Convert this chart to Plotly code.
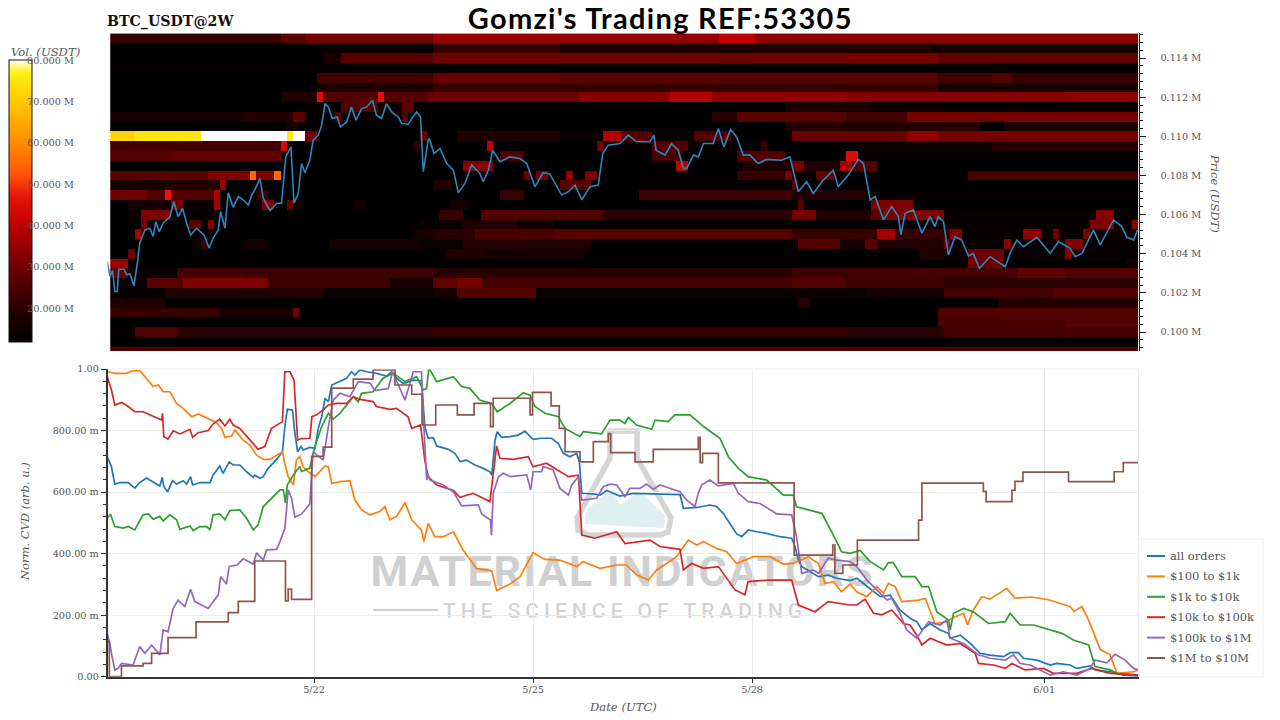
import numpy as np
import pandas as pd
import plotly.graph_objects as go

# 시간 단위: 5/19 00:00 (UTC) 부터의 hour
series_names = ['all orders', '$100 to $1k', '$1k to $10k', '$10k to $100k', '$100k to $1M', '$1M to $10M']
series_colors = ['#1f77b4', '#ff7f0e', '#2ca02c', '#d62728', '#9467bd', '#8c564b']

all_h = [4, 5.4, 6.5, 8.2, 10.9, 13.1, 14.7, 16.9, 19.1, 21.3, 22.1, 22.6, 23.8, 25.5, 26.8, 29, 30.1, 31.4, 32.1, 34.5, 37.8, 38.8, 41, 42.1, 44.1, 45.4, 47.6, 49.8, 52, 52.5, 54.2, 55.3, 56.9, 59.7, 61.6, 62.4, 63.2, 64.9, 65.7, 66.6, 67.7, 68.4, 70.6, 72.3, 73.4, 74.5, 75.6, 76.7, 77.8, 80.5, 82.7, 84.3, 85.4, 87.1, 89.3, 92.5, 95.8, 97.5, 99.1, 101.3, 104.6, 107.3, 108.4, 109.5, 111.2, 112.3, 116.1, 118.3, 120, 122.1, 124.9, 127.6, 129.8, 130.4, 131.5, 132.2, 133.6, 136.4, 139.1, 141.3, 144, 146.8, 150.1, 152.3, 153.9, 156.1, 158.3, 159.2, 160, 163.8, 166, 168.2, 172.5, 176.9, 183.5, 187.9, 192.3, 193.4, 197.8, 202.1, 204.3, 206.5, 208.7, 210.9, 212.6, 214.7, 217.5, 220.8, 225.2, 229, 230.1, 231.2, 232.3, 236.1, 237.8, 241, 243.8, 248.2, 250.4, 252.6, 255.9, 258.1, 261.4, 264.6, 267.9, 270.1, 271.8, 274.5, 277.8, 280.5, 281.1, 284.4, 287.7, 290.9, 294.2, 298.6, 300.8, 303.5, 305.2, 309.6, 314, 316.1, 320.5, 322.7, 327.1, 328.7, 333.7, 338, 343]
all_v = [.715, .683, .626, .631, .631, .613, .631, .646, .633, .620, .648, .618, .601, .637, .626, .637, .626, .650, .623, .631, .631, .655, .685, .661, .698, .688, .688, .666, .648, .655, .645, .650, .677, .706, .731, .813, .869, .867, .791, .731, .748, .737, .745, .742, .807, .845, .905, .894, .948, .959, .970, .991, .980, .997, .991, .986, .977, .991, .970, .953, .964, .962, .813, .775, .777, .750, .739, .726, .699, .704, .688, .677, .666, .655, .769, .796, .778, .780, .785, .798, .771, .775, .775, .758, .726, .715, .726, .699, .596, .594, .590, .605, .587, .596, .594, .592, .592, .547, .550, .558, .553, .531, .498, .464, .455, .477, .471, .466, .455, .450, .423, .379, .358, .336, .325, .330, .320, .312, .320, .303, .276, .260, .265, .217, .190, .179, .152, .173, .152, .141, .125, .135, .108, .076, .070, .065, .078, .078, .060, .054, .038, .043, .038, .027, .035, .022, .016, .005, .002]

o100_h = [4, 6.5, 10.4, 12.5, 14.7, 16.9, 19.1, 20.8, 22.4, 24.6, 26.8, 29, 31.7, 33.9, 36.7, 39.9, 41.6, 42.7, 44.9, 46, 48.7, 50.9, 53.1, 55.3, 57.5, 59.7, 61.6, 62.4, 63.5, 65.2, 66.2, 67.3, 68.4, 70.1, 72.3, 75.6, 76.7, 77.8, 80.5, 83.8, 85.4, 87.6, 90.4, 93.6, 95.3, 96.9, 99.1, 101.9, 104.1, 107.3, 108.1, 109.5, 111.7, 114.5, 117.8, 121, 125.4, 130.4, 132, 136.4, 139.7, 144, 147.9, 152.8, 158.3, 160.5, 166, 171.5, 174.7, 178, 181.9, 184.6, 191.2, 195, 197.8, 200, 204.3, 207.6, 210.9, 216.4, 221.9, 226.3, 229.5, 234.5, 237.8, 240, 242.7, 245.4, 248.2, 250.4, 253.7, 257, 259.2, 260.8, 263, 265.2, 270.7, 272.9, 276.1, 280, 281.6, 285.5, 286.8, 288.7, 291.5, 294.2, 299.7, 302.4, 307.9, 313.4, 316.1, 320.5, 321.8, 324.4, 326.6, 330.4, 333.7, 335.9, 341.4, 343]
o100_v = [.991, .986, .986, .995, .995, .967, .943, .948, .926, .926, .888, .872, .845, .854, .840, .826, .807, .778, .782, .802, .769, .753, .720, .706, .706, .720, .731, .693, .650, .623, .704, .715, .682, .666, .650, .685, .682, .628, .634, .637, .574, .542, .526, .537, .553, .510, .521, .566, .510, .477, .439, .498, .455, .455, .471, .412, .352, .344, .280, .301, .325, .403, .381, .379, .358, .374, .352, .363, .363, .331, .314, .347, .390, .444, .428, .439, .417, .406, .368, .390, .390, .366, .368, .390, .368, .303, .309, .276, .301, .276, .260, .293, .271, .303, .293, .244, .249, .254, .173, .179, .190, .206, .168, .217, .260, .252, .287, .255, .259, .250, .241, .228, .212, .228, .184, .089, .071, .011, .016, .022]

o1k_h = [4, 5.1, 6.5, 9.3, 10.9, 13.1, 14.2, 15.8, 17.5, 19.1, 21.3, 22.4, 24.6, 26.8, 27.9, 31.2, 32.3, 34.5, 36.7, 37.8, 38.8, 41, 42.7, 44.3, 47.6, 49.8, 52, 53.6, 55.3, 58, 60.8, 61.9, 62.6, 63.2, 65.2, 67.3, 67.9, 70.6, 72.3, 74.5, 76.7, 78.3, 80.5, 84.9, 86.5, 87.6, 91.4, 94.7, 98, 101.9, 105.7, 107.9, 109, 109.7, 110.1, 112.3, 117.8, 120.5, 123.2, 126.5, 130.4, 132.2, 136.4, 140.8, 143, 144.6, 147.9, 152.3, 154.5, 159.4, 160.5, 166.5, 169.3, 172.5, 174.2, 175.3, 178, 183, 184.1, 188.4, 190.6, 195.6, 200, 205.4, 208.2, 211.5, 214.7, 220.8, 226.3, 229.5, 230.6, 234.5, 238.9, 242.7, 245.4, 248.2, 251.5, 254.8, 259.2, 260.8, 262.4, 265.2, 269.6, 271.8, 274, 276.7, 280.5, 281.1, 282.2, 285.5, 288.7, 293.7, 299.2, 300.8, 304.1, 308.5, 314, 317.8, 321.6, 326.6, 328.7, 333.7, 335.9, 343]
o1k_v = [.515, .528, .488, .483, .488, .477, .498, .526, .529, .512, .521, .506, .526, .510, .479, .490, .475, .488, .488, .477, .526, .529, .510, .540, .542, .515, .477, .493, .553, .580, .607, .607, .564, .623, .656, .683, .667, .678, .748, .813, .856, .837, .856, .910, .894, .921, .926, .970, .986, .959, .975, .932, .937, 1.0, .997, .959, .975, .943, .937, .899, .888, .861, .888, .923, .915, .878, .856, .845, .807, .780, .796, .789, .834, .834, .823, .843, .818, .804, .834, .829, .851, .851, .813, .775, .715, .677, .650, .639, .590, .590, .552, .542, .531, .460, .406, .401, .410, .374, .347, .371, .371, .325, .325, .293, .293, .211, .184, .152, .206, .222, .211, .173, .179, .206, .168, .168, .152, .141, .119, .103, .033, .022, .011, .005]

o10k_h = [4, 5.4, 6.5, 8.7, 10.9, 13.1, 15.8, 19.1, 21.9, 22.2, 22.6, 24, 25.7, 27.9, 31.2, 32.1, 33.9, 37.2, 38.8, 41, 42.7, 44.3, 45.4, 47.6, 50.9, 53.6, 55.8, 58, 61.6, 62.4, 64.1, 65.4, 66.6, 67.9, 70.6, 71.3, 72.8, 75, 76.7, 79.4, 82.7, 84.9, 87.1, 91.4, 92.5, 96.9, 99.1, 102.9, 104.1, 107, 108.4, 109.5, 112.3, 117.8, 120, 124.3, 129.8, 132, 133.1, 137.5, 142.4, 144, 148.4, 152.8, 155.6, 158.9, 160, 164.3, 171.5, 174.2, 182.4, 185.7, 192.3, 193.4, 196.1, 200, 204.9, 210.4, 213.6, 214.7, 221.3, 229, 231.2, 236.7, 241, 248.2, 250.4, 253.1, 255.9, 258.6, 261.9, 265.7, 267.9, 270.1, 271.8, 274.5, 280, 284.4, 289.3, 290.4, 295.3, 299.2, 301.4, 305.7, 311.8, 315, 322.7, 327.6, 333.7, 343]
o10k_v = [.975, .932, .883, .891, .878, .861, .861, .847, .834, .856, .780, .772, .799, .789, .804, .778, .793, .800, .821, .837, .815, .837, .818, .807, .769, .739, .748, .807, .829, .991, .991, .964, .769, .774, .775, .845, .851, .867, .883, .888, .888, .910, .901, .894, .878, .869, .872, .845, .807, .818, .704, .650, .623, .605, .583, .596, .569, .750, .710, .706, .715, .682, .694, .666, .650, .655, .460, .450, .471, .433, .444, .423, .414, .347, .368, .352, .358, .282, .266, .309, .314, .314, .233, .211, .244, .233, .233, .252, .206, .201, .217, .173, .168, .135, .103, .125, .103, .108, .076, .043, .038, .027, .043, .022, .027, .011, .011, .027, .011, .005]

o100k_h = [4, 4.9, 5.4, 6.5, 7.6, 8.7, 12.5, 14.7, 16.4, 18.6, 21.3, 22.4, 24, 25.7, 27.3, 29.5, 31.4, 32.8, 37.2, 40.5, 41.3, 43.2, 44.1, 46.7, 48.7, 52, 53.1, 55.3, 56.4, 59.7, 60.8, 62.4, 63.5, 64.6, 65.7, 67.9, 70.6, 71.7, 73, 75, 76.7, 78.3, 80.5, 83.8, 86.5, 90.4, 92, 96.4, 97.8, 99.7, 101.9, 104.6, 107.3, 108.1, 109, 109.5, 110.1, 114.5, 117.8, 120.5, 126, 127.1, 130, 130.3, 130.9, 132.6, 134.2, 136.4, 141.9, 143.2, 144, 146.8, 147.3, 150.6, 152.8, 155.6, 156.7, 158.9, 160, 164.9, 167.1, 169.3, 171.5, 174.2, 175.8, 179.1, 181.3, 183.5, 185.7, 192.3, 194.5, 197.2, 198.3, 199.4, 202.1, 204.9, 209.8, 211.5, 214.7, 218.6, 224.1, 229, 230.6, 232.3, 236.1, 237.8, 241, 243.8, 248.2, 250.4, 253.7, 257, 260.3, 261.9, 264.6, 266.8, 270.1, 274, 277.8, 280, 281.1, 285.5, 290.4, 294.2, 299.2, 301.9, 304.1, 307.4, 314, 318.3, 322.7, 327.1, 328.7, 332.6, 335.3, 338.6, 341.4, 343]
o100k_v = [.141, .108, .076, .022, .027, .043, .038, .098, .076, .103, .071, .152, .146, .222, .249, .228, .284, .244, .222, .266, .325, .301, .358, .363, .383, .366, .403, .379, .412, .414, .439, .482, .607, .579, .518, .529, .561, .731, .720, .704, .813, .899, .921, .910, .959, .954, .930, .937, .991, .948, .899, .991, .991, .813, .639, .658, .639, .623, .601, .555, .558, .529, .509, .460, .596, .650, .661, .650, .656, .607, .666, .666, .683, .672, .612, .590, .623, .650, .574, .580, .618, .626, .623, .585, .612, .612, .626, .609, .623, .601, .574, .553, .596, .623, .639, .620, .628, .596, .569, .563, .529, .526, .455, .336, .347, .336, .385, .379, .374, .358, .314, .282, .249, .255, .206, .152, .125, .179, .168, .184, .125, .108, .071, .060, .054, .071, .043, .038, .005, .016, .005, .027, .054, .045, .073, .054, .027, .022]

# $1M to $10M 은 계단 모양 (hv)
o1m_h = [4, 4.7, 8.7, 15.8, 18.6, 24, 33.2, 43.8, 47.1, 52.5, 62.6, 63.5, 64.6, 71.2, 75, 77.8, 84.9, 91.4, 98.6, 104.1, 107.5, 112, 119.1, 124.6, 130, 130.9, 143, 143.8, 149.9, 152.6, 154.5, 159.4, 163.8, 168.7, 169.5, 177.5, 183.5, 198.3, 198.9, 199.7, 204.9, 229.8, 242.5, 243.2, 245.8, 250.6, 270.7, 271.8, 292, 292.9, 301.4, 302.4, 305, 320, 335, 338, 343]
o1m_v = [.114, 0, .035, .043, .076, .127, .178, .208, .245, .376, .246, .285, .251, .716, .746, .938, .967, .997, .948, .918, .818, .883, .851, .888, .813, .905, .851, .924, .880, .807, .731, .698, .764, .790, .728, .698, .739, .778, .696, .726, .630, .395, .428, .336, .363, .444, .509, .629, .602, .569, .606, .635, .665, .634, .666, .696, .696]

price_h = [4, 4.9, 5.8, 6.5, 7.3, 7.8, 9.5, 10.4, 11.5, 12.8, 13.9, 14.7, 16.4, 18, 19.1, 20, 21.1, 22.4, 24.6, 25.9, 27.3, 28.8, 30.1, 31.4, 33.4, 35.8, 37.5, 38.8, 40.5, 41.3, 42.7, 43.8, 45.4, 47.1, 48.7, 50.4, 51.5, 52.5, 54.2, 55.3, 57.5, 59.7, 61.3, 62.1, 62.7, 64.4, 65.4, 66.8, 67.9, 69, 70.6, 71.7, 73.4, 74.5, 75.6, 76.7, 78, 79.6, 80.7, 82.7, 84.3, 85.8, 87.6, 89.3, 91.2, 92.5, 94.2, 95.8, 97.5, 99.7, 100.8, 102.9, 105.7, 107, 107.9, 109.5, 109.9, 111.4, 113.4, 115.6, 117.8, 119.4, 121.6, 123.8, 126.5, 127.6, 129.3, 130.7, 133.1, 136.4, 139.7, 141.9, 144.6, 147.3, 149.5, 153.4, 155.6, 157.8, 160, 162.7, 165.4, 166.9, 168.7, 172.5, 175.3, 178, 182.4, 183.7, 184.4, 187.4, 189.5, 191.7, 193.4, 194.5, 196.7, 198.3, 200, 203.2, 204.9, 206.7, 208.9, 210.9, 213.1, 215.3, 218, 220.8, 225.7, 228.4, 231.2, 233.9, 236.1, 238.9, 242.7, 244.3, 247.6, 250.9, 252.6, 254.8, 256.4, 259.2, 261.9, 264.1, 264.9, 266.3, 269, 271.8, 274.5, 276.1, 277.2, 278.9, 280.5, 282.7, 284.9, 287.1, 288.7, 290.7, 294.2, 299.2, 300.8, 303, 305.2, 309.6, 314, 316.7, 320.5, 322.2, 324.4, 328.2, 330.4, 334.8, 337.5, 339.2, 341.4, 342.7]
price_k = [103.6, 102.84, 103.14, 102.07, 102.07, 103.21, 103.21, 102.92, 102.97, 102.36, 103.52, 104.54, 105.22, 105.3, 104.88, 105.64, 105.13, 105.56, 105.9, 106.66, 105.9, 106.32, 105.56, 104.96, 105.3, 104.96, 104.28, 104.79, 105.22, 106.15, 105.3, 107.12, 106.37, 106.92, 106.75, 106.49, 107, 107.25, 107.85, 106.83, 106.2, 106.58, 106.58, 108.1, 108.95, 109.46, 106.58, 107.08, 108.61, 108.14, 108.78, 109.8, 110.06, 110.57, 111.67, 111.5, 110.91, 110.99, 110.48, 110.74, 111.5, 110.82, 111.42, 111.5, 111.84, 111.08, 110.91, 111.67, 111.25, 110.99, 110.65, 110.62, 111.25, 110.99, 108.19, 109.8, 109.89, 109.12, 109.38, 108.61, 108.27, 107.12, 107.59, 108.53, 108.1, 107.68, 108.27, 109.29, 108.7, 108.95, 108.87, 108.61, 107.42, 108.14, 108.07, 107, 107.17, 107.51, 106.75, 107.42, 107.51, 109.12, 109.55, 109.63, 110.06, 109.72, 109.72, 110.06, 109.29, 109.04, 109.63, 109.29, 108.36, 108.36, 109.04, 108.95, 109.63, 109.63, 110.4, 109.46, 110.35, 109.97, 109.04, 109.04, 108.61, 108.82, 108.78, 108.95, 107.17, 107.68, 107.08, 107.68, 108.27, 107.42, 108.02, 108.82, 108.61, 106.75, 106.92, 105.73, 106.41, 105.9, 104.96, 106.07, 106.24, 105.05, 105.9, 105.39, 105.9, 105.64, 103.94, 104.87, 104.7, 103.89, 104.02, 103.26, 103.85, 103.34, 104.02, 104.7, 104.36, 104.84, 104.02, 104.62, 104.28, 103.85, 104.02, 105.22, 104.45, 105.73, 105.39, 104.84, 104.7, 105.22]

# heatmap: 한 줄 = [칸 수, 거래량(M), 칸 수, 거래량(M), ...], 칸 하나는 2시간
col_hours = list(range(6, 344, 2))
row_prices = [115, 114.5, 114, 113.5, 113, 112.5, 112, 111.5, 111, 110.5, 110, 109.5, 109, 108.5, 108, 107.5, 107, 106.5, 106, 105.5, 105, 104.5, 104, 103.5, 103, 102.5, 102, 101.5, 101, 100.5, 100, 99.5, 99]
row_runs = [
    [28, 22, 4, 27, 21, 31, 47, 35, 6, 40, 63, 34],
    [34, 12, 17, 14, 2, 12, 21, 22, 47, 19, 14, 19, 34, 17],
    [35, 12, 3, 17, 15, 27, 68, 30, 15, 31, 33, 28],
    [169, 13],
    [34, 12, 19, 24, 21, 29, 62, 27, 9, 24, 3, 26, 21, 22],
    [34, 12, 19, 18, 83, 22, 33, 17],
    [28, 12, 6, 19, 1, 45, 9, 26, 1, 46, 7, 26, 25, 30, 15, 33, 7, 39, 22, 34, 36, 33, 12, 34],
    [38, 12, 6, 26, 4, 16, 2, 27, 61, 12, 10, 17, 4, 17, 12, 14, 32, 13],
    [22, 17, 8, 19, 2, 28, 5, 12, 1, 27, 10, 13, 1, 26, 50, 12, 4, 20, 18, 27, 10, 24, 38, 31],
    [29, 12, 2, 17, 80, 12, 10, 19, 22, 19, 4, 12, 22, 17],
    [4, 72, 11, 75, 14, 82, 1, 76, 2, 81, 2, 30, 17, 12, 1, 29, 5, 12, 17, 18, 7, 14, 3, 39, 5, 26, 7, 13, 6, 26, 10, 12, 9, 29, 10, 29, 5, 34, 33, 31],
    [28, 24, 1, 44, 21, 12, 1, 20, 11, 12, 1, 40, 17, 12, 1, 31, 8, 13, 6, 26, 12, 13, 1, 22, 14, 12, 23, 14, 24, 19],
    [10, 26, 18, 28, 36, 12, 4, 26, 21, 12, 5, 24, 9, 12, 8, 26, 10, 12, 2, 45, 46, 13],
    [58, 12, 5, 33, 30, 12, 2, 40, 9, 12, 8, 18, 2, 31, 6, 18, 2, 37, 4, 26, 43, 12],
    [16, 27, 7, 32, 1, 55, 3, 32, 1, 55, 40, 12, 1, 30, 1, 12, 2, 31, 3, 12, 1, 35, 2, 12, 2, 32, 23, 12, 8, 22, 1, 31, 4, 14, 3, 28, 22, 12, 28, 25],
    [9, 17, 9, 19, 1, 35, 34, 12, 3, 19, 18, 12, 5, 27, 33, 12, 1, 27, 56, 12],
    [6, 30, 3, 26, 1, 47, 7, 26, 1, 37, 6, 12, 2, 22, 38, 12, 4, 22, 19, 12, 25, 23, 12, 19, 45, 13],
    [3, 12, 7, 16, 2, 31, 5, 14, 1, 37, 7, 12, 2, 33, 2, 12, 1, 28, 10, 12, 2, 16, 14, 12, 3, 16, 54, 12, 1, 27, 11, 12, 7, 32, 37, 12],
    [3, 12, 2, 14, 5, 32, 44, 12, 4, 22, 3, 12, 20, 26, 31, 20, 4, 31, 9, 19, 2, 27, 10, 32, 25, 13, 3, 33, 4, 13],
    [5, 12, 1, 31, 7, 12, 2, 27, 1, 12, 1, 32, 34, 12, 7, 14, 9, 19, 6, 16, 88, 13, 4, 32, 3, 13, 1, 34],
    [4, 12, 1, 37, 45, 12, 1, 16, 2, 17, 7, 20, 13, 25, 39, 27, 14, 22, 3, 37, 9, 22, 2, 32, 10, 13, 3, 34, 2, 13, 1, 30, 4, 13, 1, 32, 8, 13],
    [15, 12, 1, 22, 6, 12, 4, 16, 10, 12, 15, 16, 7, 14, 9, 19, 12, 18, 34, 13, 7, 26, 4, 17, 2, 27, 11, 18, 1, 31, 9, 13, 1, 33, 9, 13, 3, 33, 9, 13],
    [3, 12, 1, 30, 51, 12, 7, 18, 16, 16, 55, 12, 4, 18, 4, 13, 6, 30, 6, 13, 4, 14, 1, 33, 11, 13],
    [3, 36, 138, 12, 1, 31, 5, 29, 20, 12, 2, 16],
    [3, 29, 8, 14, 11, 24, 31, 23, 59, 20, 10, 23, 27, 24, 8, 28, 12, 26],
    [6, 13, 6, 27, 14, 32, 20, 23, 7, 17, 4, 28, 4, 31, 51, 24, 9, 26, 16, 23, 32, 20],
    [9, 13, 26, 19, 16, 14, 2, 14, 4, 17, 13, 26, 54, 14, 13, 17, 18, 24, 14, 26],
    [9, 18, 104, 12, 2, 20, 31, 12, 23, 19],
    [18, 22, 12, 17, 1, 31, 105, 12, 33, 26],
    [136, 12, 21, 25, 12, 26],
    [4, 13, 7, 26, 42, 20, 68, 22, 16, 20, 32, 24],
    [169, 12],
    [169, 26],
]

vol_ticks = [20, 30, 40, 50, 60, 70, 80]
price_ticks = [100, 102, 104, 106, 108, 110, 112, 114]
cvd_ticks = [0, .2, .4, .6, .8, 1]
cvd_labels = ['0.00', '200.00 m', '400.00 m', '600.00 m', '800.00 m', '1.00']
date_ticks = ['2025-05-22', '2025-05-25', '2025-05-28', '2025-06-01']
date_labels = ['5/22', '5/25', '5/28', '6/01']

W, H = 1280, 720
SERIF = 'DejaVu Serif'
GRAY = '#555555'


def to_dates(hours):
    return pd.Timestamp('2025-05-19') + pd.to_timedelta(hours, unit='h')


# 픽셀 -> paper 좌표
def xp(px):
    return px / W


def yp(py):
    return 1 - py / H


def flask_path(points):
    s = 'M ' + ' L '.join(f'{xp(a):.4f},{yp(b):.4f}' for a, b in points)
    return s + ' Z'


vol_grid = np.array([np.repeat(r[1::2], r[0::2]) for r in row_runs], dtype=float)

vmin, vmax = 11.8, 80
hot_stops = [(11.8, '#000000'), (20, '#280000'), (30, '#6e0000'), (40, '#be0000'), (47, '#e6140a'),
             (52, '#ff500a'), (60, '#ff8c00'), (70, '#ffc800'), (77, '#fff014'), (80, '#ffffff')]
hot_scale = [[(v - vmin) / (vmax - vmin), c] for v, c in hot_stops]

fig = go.Figure()

fig.add_trace(go.Heatmap(x=to_dates(col_hours), y=row_prices, z=vol_grid, zmin=vmin, zmax=vmax,
                         colorscale=hot_scale, xaxis='x', yaxis='y', hoverinfo='skip',
                         colorbar=dict(x=xp(9), xanchor='left', y=yp(342), yanchor='bottom', len=282 / H,
                                       thickness=23, outlinecolor='#111111', outlinewidth=1, borderwidth=0,
                                       xpad=0, ypad=0, ticks='', showticklabels=False)))
fig.add_trace(go.Scatter(x=to_dates(price_h), y=price_k, mode='lines', line=dict(color='#2f86bd', width=1.6),
                         xaxis='x', yaxis='y', showlegend=False, cliponaxis=False))

cvd = [(all_h, all_v), (o100_h, o100_v), (o1k_h, o1k_v), (o10k_h, o10k_v), (o100k_h, o100k_v), (o1m_h, o1m_v)]
for (hrs, vals), name, color in zip(cvd, series_names, series_colors):
    shape = 'hv' if name == '$1M to $10M' else 'linear'
    fig.add_trace(go.Scatter(x=to_dates(hrs), y=vals, mode='lines', name=name, xaxis='x2', yaxis='y2',
                             line=dict(color=color, width=1.7, shape=shape), showlegend=False))

x_range = [to_dates(4.1), to_dates(343.0)]
dom_x = [xp(107.5), xp(1138.5)]
tick_font = dict(family=SERIF, size=9.7, color=GRAY)

fig.update_layout(
    width=W, height=H, margin=dict(l=0, r=0, t=0, b=0, autoexpand=False), paper_bgcolor='white', plot_bgcolor='white',
    showlegend=False,
    xaxis=dict(domain=dom_x, range=x_range, showticklabels=False, ticks='', showgrid=False, zeroline=False),
    yaxis=dict(domain=[yp(351), yp(33)], range=[99.03, 115.28], side='right', anchor='x',
               tickmode='array', tickvals=price_ticks, ticktext=[f'0.{p:03d} M' for p in price_ticks],
               tickfont=tick_font, ticks='outside', ticklen=6, tickcolor='#222222', ticklabelstandoff=13,
               showgrid=False, zeroline=False, showline=True, linecolor='#222222', linewidth=1,
               minor=dict(tickmode='linear', tick0=100, dtick=0.4, ticks='outside', ticklen=3, tickcolor='#222222')),
    xaxis2=dict(domain=dom_x, range=x_range, anchor='y2', tickmode='array', tickvals=date_ticks, ticktext=date_labels,
                tickfont=tick_font, ticks='outside', ticklen=5, tickcolor='#333333', showline=True, linecolor='#333333',
                linewidth=1.5, gridcolor='#ececec', showgrid=True, zeroline=False, ticklabelstandoff=-2),
    yaxis2=dict(domain=[yp(676.7), yp(369)], range=[0, 1], anchor='x2', tickmode='array', tickvals=cvd_ticks,
                ticktext=cvd_labels, tickfont=tick_font, ticks='outside', ticklen=5, tickcolor='#333333', showline=True,
                linecolor='#333333', linewidth=1.5, gridcolor='#ececec', zeroline=False,
                minor=dict(tickmode='linear', tick0=0, dtick=0.04, ticks='outside', ticklen=3, tickcolor='#333333')),
)

# 워터마크 (선 아래쪽) + 오른쪽 위 테두리
stroke = dict(color='#d5d5d5', width=5.5)
shapes = [
    dict(type='path', xref='paper', yref='paper', layer='below', fillcolor='#dff0f0', line=dict(width=0),
         path=flask_path([(585, 524), (586, 510), (606, 494), (612, 491), (620, 505), (630, 498), (640, 492), (665, 515), (664, 528)])),
    dict(type='path', xref='paper', yref='paper', layer='below', fillcolor='rgba(0,0,0,0)', line=stroke,
         path=flask_path([(610, 431), (637, 431), (637, 458), (671, 518), (668, 532), (660, 535), (588, 535), (578, 530), (577, 518), (610, 458)])),
    dict(type='line', xref='paper', yref='paper', layer='below', x0=xp(373), x1=xp(438), y0=yp(610), y1=yp(610),
         line=dict(color='#d2d2d2', width=2)),
    dict(type='rect', xref='paper', yref='paper', layer='below', x0=xp(360), x1=xp(885), y0=yp(587), y1=yp(549),
         line=dict(width=0), label=dict(text='MATERIAL INDICATORS', textposition='middle center',
                                        font=dict(family='Roboto', size=43, color='#d0d0d0', weight=700))),
    dict(type='rect', xref='paper', yref='paper', layer='below', x0=xp(441), x1=xp(809), y0=yp(621), y1=yp(597),
         line=dict(width=0), label=dict(text='THE SCIENCE OF TRADING', textposition='middle center',
                                        font=dict(family='Roboto', size=21, color='#d4d4d4', weight=500))),
    dict(type='line', xref='paper', yref='paper', layer='above', x0=xp(107.5), x1=xp(1138.5), y0=yp(369), y1=yp(369),
         line=dict(color='#ececec', width=1)),
    dict(type='line', xref='paper', yref='paper', layer='above', x0=xp(1138.5), x1=xp(1138.5), y0=yp(369), y1=yp(676),
         line=dict(color='#ececec', width=1)),
    # 범례 상자
    dict(type='rect', xref='paper', yref='paper', layer='above', x0=xp(1139), x1=xp(1263), y0=yp(677), y1=yp(539),
         line=dict(color='#f0f0f0', width=1), fillcolor='white'),
]

annots = [
    dict(text='<b>BTC_USDT@2W</b>', px=105, py=21, xa='left', font=dict(family=SERIF, size=14.2, color='#111111')),
    dict(text="Gomzi's Trading REF:53305", px=660, py=17, xa='center',
         font=dict(family='Lato', size=29, color='#000000', weight=700)),
    dict(text='<i>Vol. (USDT)</i>', px=45, py=52, xa='center', font=dict(family=SERIF, size=11.6, color=GRAY)),
    dict(text='<i>Date (UTC)</i>', px=623, py=707, xa='center', font=dict(family=SERIF, size=11.6, color=GRAY)),
    dict(text='<i>Norm. CVD (arb. u.)</i>', px=25, py=522, xa='center', angle=-90, font=dict(family=SERIF, size=11.5, color=GRAY)),
    dict(text='<i>Price (USDT)</i>', px=1215, py=193, xa='center', angle=90, font=dict(family=SERIF, size=11.6, color=GRAY)),
]
for v in vol_ticks:
    # 컬러바 눈금 글자는 막대 위에 겹쳐 있음
    annots.append(dict(text=f'{v}.000 M', px=76, py=342 - (v - vmin) / (vmax - vmin) * 282, xa='right', font=tick_font))

# 범례 (선 길이가 짧아서 직접 그림)
for i, (name, color) in enumerate(zip(series_names, series_colors)):
    row_y = 556 + i * 20.4
    shapes.append(dict(type='line', xref='paper', yref='paper', layer='above', x0=xp(1147), x1=xp(1165), y0=yp(row_y), y1=yp(row_y),
                       line=dict(color=color, width=2)))
    annots.append(dict(text=name, px=1167.5, py=row_y, xa='left', font=dict(family=SERIF, size=11.5, color=GRAY)))

fig.update_layout(shapes=shapes)

for a in annots:
    fig.add_annotation(text=a['text'], x=xp(a['px']), y=yp(a['py']), xref='paper', yref='paper', showarrow=False,
                       xanchor=a['xa'], yanchor='middle', font=a['font'], textangle=a.get('angle', 0))

# 글자 간격은 CSS 로만 가능
post = """
document.body.style.margin = '0';
document.querySelectorAll('.shapelayer text, .shape-label').forEach(function (t) {
    if (t.textContent.indexOf('MATERIAL') === 0) { t.style.letterSpacing = '2px'; }
    if (t.textContent.indexOf('THE SCIENCE') === 0) { t.style.letterSpacing = '5px'; }
});
document.querySelectorAll('.annotation-text').forEach(function (t) {
    if (t.textContent.indexOf('Gomzi') === 0) { t.style.letterSpacing = '1.3px'; }
});
"""
fig.write_html("out.html", post_script=post, config=dict(displayModeBar=False))
